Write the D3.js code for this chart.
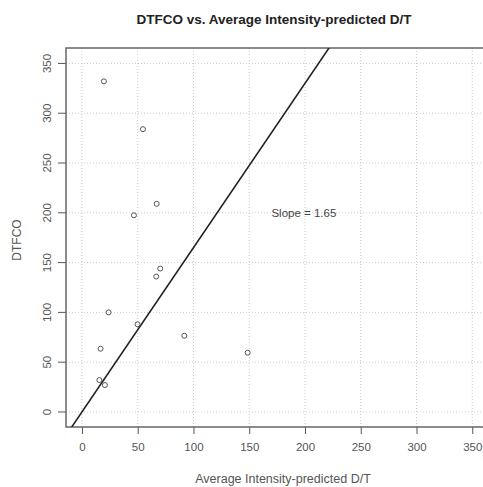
<!DOCTYPE html>
<html>
<head>
<meta charset="utf-8">
<script src="https://cdn.jsdelivr.net/npm/d3@7"></script>
<style>
  body { margin: 0; background: #fff; }
  text { font-family: "Liberation Sans", Arial, sans-serif; }
</style>
</head>
<body>
<script>
var predicted = [19.7, 54.7, 46.6, 67, 70.2, 66.6, 23.9, 49.9, 91.8, 16.7, 148.6, 15.6, 20.6];
var dtfco = [332, 284, 197.5, 209, 144, 136, 100, 88, 76.5, 63.5, 59.5, 32, 27];
var slope = 1.65;
var xTicks = [0, 50, 100, 150, 200, 250, 300, 350];
var yTicks = [0, 50, 100, 150, 200, 250, 300, 350];

var settings = {
  width: 483,
  height: 487,
  left: 66,
  right: 490,
  top: 48,
  bottom: 427
};

var svg = d3.select('body').append('svg')
  .attr('width', settings.width)
  .attr('height', settings.height);

var x = d3.scaleLinear().domain([-14.3, 365.9]).range([settings.left, settings.right]);
var y = d3.scaleLinear().domain([-15.1, 365.5]).range([settings.bottom, settings.top]);

// grid
svg.append('g').selectAll('line').data(xTicks)
  .enter().append('line')
    .attr('x1', function(d){return x(d);})
    .attr('x2', function(d){return x(d);})
    .attr('y1', settings.top)
    .attr('y2', settings.bottom)
    .style('stroke', '#ccc')
    .style('stroke-dasharray', '1,2');

svg.append('g').selectAll('line').data(yTicks)
  .enter().append('line')
    .attr('x1', settings.left)
    .attr('x2', settings.right)
    .attr('y1', function(d){return y(d);})
    .attr('y2', function(d){return y(d);})
    .style('stroke', '#ccc')
    .style('stroke-dasharray', '1,2');

// axes
var xAxis = svg.append('g')
  .attr('transform', 'translate(0,' + settings.bottom + ')')
  .call(d3.axisBottom(x).tickValues(xTicks).tickSize(7).tickPadding(9));
var yAxis = svg.append('g')
  .attr('transform', 'translate(' + settings.left + ',0)')
  .call(d3.axisLeft(y).tickValues(yTicks).tickSize(8).tickPadding(5));

[xAxis, yAxis].forEach(function(ax){
  ax.select('.domain').remove();
  ax.selectAll('line').style('stroke', '#555');
  ax.selectAll('text').style('fill', '#555').style('font-size', '11.5px');
});
yAxis.selectAll('text')
  .attr('text-anchor', 'middle')
  .attr('transform', function(d){return 'translate(-19,' + y(d) + ') rotate(-90)';})
  .attr('x', 0)
  .attr('dy', '0.35em')
  .attr('y', 0);
yAxis.selectAll('.tick').attr('transform', null);
yAxis.selectAll('.tick line')
  .attr('y1', function(d){return y(d);})
  .attr('y2', function(d){return y(d);});

// box
svg.append('rect')
  .attr('x', settings.left)
  .attr('y', settings.top)
  .attr('width', settings.right - settings.left)
  .attr('height', settings.bottom - settings.top)
  .style('fill', 'none')
  .style('stroke', '#666')
  .style('stroke-width', 1.5);

// fitted line through origin
svg.append('clipPath').attr('id', 'clip').append('rect')
  .attr('x', settings.left).attr('y', settings.top)
  .attr('width', settings.right - settings.left)
  .attr('height', settings.bottom - settings.top);

svg.append('line')
  .attr('clip-path', 'url(#clip)')
  .attr('x1', x(-20))
  .attr('y1', y(-20 * slope))
  .attr('x2', x(240))
  .attr('y2', y(240 * slope))
  .style('stroke', '#222')
  .style('stroke-width', 1.6);

// points
svg.append('g').selectAll('circle').data(predicted)
  .enter().append('circle')
    .attr('cx', function(d){return x(d);})
    .attr('cy', function(d, i){return y(dtfco[i]);})
    .attr('r', 2.5)
    .style('fill', 'none')
    .style('stroke', '#555')
    .style('stroke-width', 1);

svg.append('text')
  .attr('x', x(199))
  .attr('y', y(200))
  .attr('dy', '0.35em')
  .attr('text-anchor', 'middle')
  .style('font-size', '11.5px')
  .style('fill', '#444')
  .text('Slope = ' + slope);

// titles
svg.append('text')
  .attr('x', 274)
  .attr('y', 24)
  .attr('text-anchor', 'middle')
  .style('font-size', '13.5px')
  .style('font-weight', 'bold')
  .style('fill', '#222')
  .text('DTFCO vs. Average Intensity-predicted D/T');

svg.append('text')
  .attr('x', 283)
  .attr('y', 483)
  .attr('text-anchor', 'middle')
  .style('font-size', '12.5px')
  .style('fill', '#555')
  .text('Average Intensity-predicted D/T');

svg.append('text')
  .attr('transform', 'translate(21,240) rotate(-90)')
  .attr('text-anchor', 'middle')
  .style('font-size', '12px')
  .style('fill', '#555')
  .text('DTFCO');
</script>
</body>
</html>
